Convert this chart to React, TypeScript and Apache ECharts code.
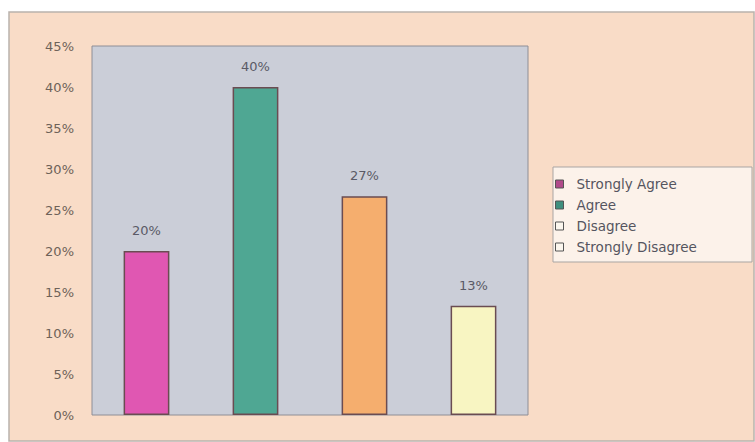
import React, { useEffect, useRef } from "react";
import * as echarts from "echarts";

const categories = ["Strongly Agree", "Agree", "Disagree", "Strongly Disagree"];
const values = [20, 40, 26.67, 13.33];
const barColors = ["#e057b2", "#4fa793", "#f5ae6e", "#f8f5c2"];
const legendIconColors = ["#b04a8a", "#3f8f7e", "#fbf6ee", "#fbf6ee"];
const yTicks = { min: 0, max: 45, interval: 5 };

export default function App() {
  const ref = useRef<HTMLDivElement>(null);
  useEffect(() => {
    if (!ref.current) return;
    const chart = echarts.init(ref.current, undefined, { renderer: "svg" });
    const series = categories.map((name, i) => ({
      name,
      type: "bar",
      stack: "all",
      barWidth: "42%",
      data: categories.map((_, j) => (j === i ? values[i] : "-")),
      itemStyle: { color: barColors[i], borderColor: "#6a4c52", borderWidth: 1.5 },
      label: {
        show: true,
        position: "top",
        distance: 14,
        color: "#5a5a66",
        fontFamily: "DejaVu Sans",
        fontSize: 13,
        formatter: (p: any) => Math.round(p.value) + "%",
      },
    }));
    chart.setOption({
      animation: false,
      graphic: [
        {
          type: "rect",
          z: -10,
          shape: { x: 9, y: 12, width: 745, height: 429 },
          style: { fill: "#f9dcc7", stroke: "#b9b2ad", lineWidth: 1.5 },
          silent: true,
        },
        {
          type: "rect",
          z: -5,
          shape: { x: 553, y: 167, width: 199, height: 95 },
          style: { fill: "#fcf2ea", stroke: "#a9a5a3", lineWidth: 1 },
          silent: true,
        },
      ],
      grid: {
        left: 92,
        right: 227,
        top: 46,
        bottom: 27,
        show: true,
        backgroundColor: "#cbced8",
        borderColor: "#8e8e96",
        borderWidth: 1,
      },
      legend: {
        orient: "vertical",
        left: 555,
        top: 177,
        padding: 0,
        itemWidth: 8,
        itemHeight: 8,
        itemGap: 7,
        icon: "rect",
        textStyle: {
          color: "#55555f",
          fontFamily: "DejaVu Sans",
          fontSize: 13.5,
          padding: [0, 0, 0, 8],
        },
        data: categories.map((name, i) => ({
          name,
          itemStyle: { color: legendIconColors[i], borderColor: "#555", borderWidth: 1 },
        })),
      },
      xAxis: {
        type: "category",
        data: categories,
        axisLabel: { show: false },
        axisTick: { show: false },
        axisLine: { show: false },
      },
      yAxis: {
        type: "value",
        min: yTicks.min,
        max: yTicks.max,
        interval: yTicks.interval,
        splitLine: { show: false },
        axisLine: { show: false },
        axisTick: { show: false },
        axisLabel: {
          formatter: "{value}%",
          color: "#6e6258",
          fontFamily: "DejaVu Sans",
          fontSize: 13,
          margin: 18,
        },
      },
      series,
    });
    return () => chart.dispose();
  }, []);
  return (
    <div
      ref={ref}
      style={{ position: "absolute", left: 0, top: 0, width: 755, height: 442, background: "#ffffff" }}
    />
  );
}
